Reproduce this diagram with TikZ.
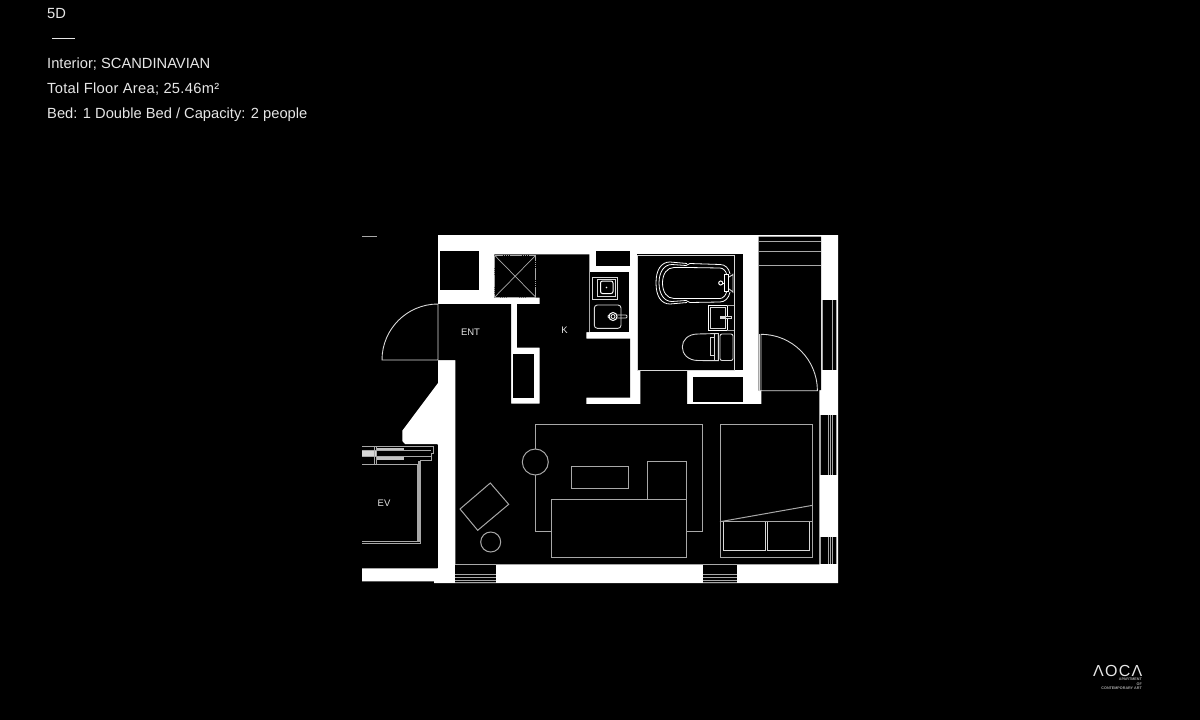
\documentclass[tikz,border=0pt]{standalone}
\usepackage{fontspec}
\setmainfont{Liberation Sans}
\definecolor{txt}{HTML}{E6E6E6}
\definecolor{ln}{HTML}{D8D8D8}
\definecolor{gl}{HTML}{A8A8A8}
\tikzset{
  wall/.style={fill=white,draw=none},
  void/.style={fill=black,draw=none},
  thin line/.style={draw=ln,line width=0.9pt},
  grey line/.style={draw=gl,line width=1pt},
  fix line/.style={draw=white,line width=1pt},
  info/.style={text=txt,anchor=base west,inner sep=0pt,font=\fontsize{14.7}{14.7}\selectfont},
  room/.style={text=txt,anchor=center,inner sep=0pt,font=\fontsize{9.5}{9.5}\selectfont},
  logosmall/.style={text=gl,inner sep=0pt,anchor=base east,font=\bfseries\fontsize{3.7}{3.7}\selectfont},
}
\begin{document}
\begin{tikzpicture}[x=1pt,y=-1pt]
\useasboundingbox (0,0) rectangle (1200,720);
\fill[black] (0,0) rectangle (1200,720);
% header
\node[info] (t1) at (47,18) {5D};
\coordinate (da) at (52,38); \coordinate (db) at (75,38);
\draw[draw=txt,line width=1pt] (da) -- (db);
\node[info] (t2) at (47,68) {Interior; SCANDINAVIAN};
\node[info] (t3) at (47,93) {\addfontfeature{LetterSpace=2}Total Floor Area; 25.46m²};
\node[info] (t4) at (47,118) {Bed: 1 Double Bed / Capacity: 2 people};
% silhouette
\fill[wall] (438,235) -- (838,235) -- (838,583) -- (434,583) -- (434,581.3) -- (362,581.3) -- (362,568.3)
  -- (437.7,568.3) -- (437.7,444) -- (405,444) -- (402.3,441) -- (402.3,430.7) -- (438,383) -- cycle;
% main room
\fill[void] (438,304) -- (511,304) -- (511,403.7) -- (539.7,403.7) -- (539.7,347.7) -- (517,347.7) -- (517,304)
  -- (539.7,304) -- (539.7,297.7) -- (494.3,297.7) -- (494.3,254.3) -- (589.3,254.3) -- (589.3,332) -- (586.3,332)
  -- (586.3,338.7) -- (630,338.7) -- (630,397.7) -- (586.3,397.7) -- (586.3,404) -- (640.3,404) -- (640.3,370.3)
  -- (687,370.3) -- (687,404) -- (761.3,404) -- (761.3,390.7) -- (758.7,390.7) -- (758.7,236.7) -- (821,236.7)
  -- (821,390) -- (819.3,390) -- (819.3,564.3) -- (455.3,564.3) -- (455.3,360) -- (438,360) -- cycle;
% closets and fixtures voids
\fill[void] (440,250.7) rectangle (479.3,290.3);
\fill[void] (596,250.7) rectangle (630,266);
\fill[void] (590,272) rectangle (629.3,332);
\fill[void] (636.7,254.3) rectangle (743.3,370.3);
\fill[void] (693,377.3) rectangle (743.3,401.7);
\fill[void] (513,353.7) rectangle (533.7,397.7);
% right windows
\fill[void] (821.7,300.3) rectangle (837,369.7);
\fill[void] (820,415) rectangle (837,474.7);
\fill[void] (820,536.7) rectangle (837,564.3);
\foreach \a/\b/\cc in {822/300.3/369.7,832/300.3/369.7,836.3/300.3/369.7,
   820/415/474.7,828/415/474.7,830/415/474.7,832.7/415/474.7,836.7/415/474.7,
   820/536.7/564.3,828/536.7/564.3,830/536.7/564.3,832.7/536.7/564.3,836.7/536.7/564.3}
  \draw[grey line,line width=0.8pt] (\a,\b) -- (\a,\cc);
% bottom windows
\fill[void] (455.3,565) rectangle (496,583);
\fill[void] (702.7,565) rectangle (736.7,583);
\foreach \a/\b in {455.3/496,702.7/736.7}
  \foreach \y in {564.6,574.3,577,580,582.5}
    \draw[grey line,line width=0.8pt] (\a,\y) -- (\b,\y);
% balcony lines
\foreach \y in {236.7,241.3,251.7,265.3}
  \draw[grey line] (758.7,\y) -- (821,\y);
% doors
\draw[thin line] (438,304) -- (438,360) -- (382,360) arc[start angle=180,end angle=270,radius=56];
\draw[thin line] (759,390.7) -- (759,334.3);
\draw[thin line] (761,390.7) -- (761,334.3) arc[start angle=270,end angle=360,radius=56.4] -- (759,390.7);
% shaft
\draw[draw=gl,line width=0.8pt,dash pattern=on 1.5pt off 0.4pt] (494.8,255.5) rectangle (535.5,297);
\draw[grey line,line width=0.7pt] (494.8,255.5) -- (535.5,297) (535.5,255.5) -- (494.8,297);
% small mark
\draw[draw=gl,line width=0.9pt] (362,236) -- (377,236);
% elevator
\fill[void] (362,444.5) rectangle (437.7,568.3);
\draw[grey line] (362,446.7) -- (433.7,446.7) -- (433.7,453.7) -- (431.7,453.7) -- (431.7,460.7) -- (420,460.7) -- (420,543.3) -- (362,543.3);
\draw[grey line] (417.5,464) -- (417.5,541.3) -- (362,541.3);
\draw[grey line] (362,464) -- (417.5,464);
\fill[gl] (418,461) rectangle (420,542);
\fill[gl!70] (376,447.5) rectangle (403.5,450.5);
\fill[gl!70] (376,457) rectangle (403.5,460);
\fill[ln] (362,451) rectangle (376,456);
\draw[grey line,line width=0.7pt] (374,447) -- (374,464) (376,447) -- (376,464);
\draw[grey line,line width=0.7pt] (362,450.5) -- (431,450.5) (362,456.5) -- (431,456.5);
% living room
\draw[grey line] (552,531.7) -- (535.3,531.7) -- (535.3,475);
\draw[grey line] (535.3,449) -- (535.3,424.3) -- (702.3,424.3) -- (702.3,531.7) -- (686,531.7);
\draw[grey line] (535.3,462) circle[radius=13];
\draw[grey line] (551.7,499.7) rectangle (686,557);
\draw[grey line] (571.3,466.7) rectangle (628,488.3);
\draw[grey line] (647.3,499.7) -- (647.3,461.7) -- (686,461.7) -- (686,499.7);
\draw[grey line] (490.3,483) -- (508.7,504.3) -- (477.7,530.3) -- (460,509) -- cycle;
\draw[grey line] (490.7,542) circle[radius=10];
% bed
\draw[grey line] (720,424.7) rectangle (812.7,557);
\draw[grey line] (720,521.7) -- (812.7,505.3);
\draw[grey line] (720,521.7) -- (812.7,521.7);
\draw[thin line] (723.3,522) -- (723.3,550.3) -- (765.3,550.3) -- (765.3,522);
\draw[thin line] (767.7,522) -- (767.7,550.3) -- (809.7,550.3) -- (809.7,522);
% kitchen
\draw[grey line] (589.8,272) -- (589.8,332);
\draw[thin line] (592.5,277.3) rectangle (617.3,299);
\draw[thin line] (597.7,279) rectangle (615,296.5);
\draw[fix line,rounded corners=2pt] (600.5,281) rectangle (613,293.5);
\fill[white] (606.5,287.5) circle[radius=0.8];
\draw[thin line,rounded corners=3pt] (594.3,305) rectangle (621,328.3);
\draw[thin line,rounded corners=1pt] (608,315) rectangle (627,318);
\draw[fix line,fill=black] (613,316.5) circle[radius=4];
\draw[fix line,line width=0.8pt] (613,316.5) circle[radius=2];
% bath
\draw[thin line] (637,255.5) rectangle (734.3,370);
\draw[fix line,line width=0.8pt] (687,263.5) -- (670,262) .. controls (661,262) and (656,270) .. (656,283) .. controls (656,296) and (661,304) .. (670,304) -- (687,302.5);
\draw[fix line,line width=0.8pt] (686,265.5) -- (672,264.5) .. controls (664,264.5) and (659,272) .. (659,283) .. controls (659,294) and (664,301.5) .. (672,301.5) -- (686,300.5);
\draw[fix line,line width=0.8pt] (688,267.5) -- (674,267.5) .. controls (667,267.5) and (662.5,274) .. (662.5,283) .. controls (662.5,292) and (667,298.5) .. (674,298.5) -- (688,298.5);
\draw[fix line,line width=0.8pt] (686,265.5) -- (690,263.5) -- (720,264.5) .. controls (725,264.5) and (729,268) .. (730,274);
\draw[fix line,line width=0.8pt] (686,300.5) -- (690,302.5) -- (720,302) .. controls (725,302) and (729,298) .. (730,292);
\draw[fix line,line width=0.8pt] (688,267.5) -- (720,268) .. controls (723,268) and (726,271) .. (726.5,274);
\draw[fix line,line width=0.8pt] (688,298.5) -- (720,298.5) .. controls (723,298.5) and (726,295) .. (726.5,292);
\draw[fix line,fill=black] (724.7,274.3) rectangle (728,291);
\draw[thin line] (729,277) -- (733,274.5) (729,289) -- (733,292) (733,273.5) -- (733,293);
\draw[fix line] (725,283) -- (722,283);
\draw[fix line,fill=black] (720.7,283) circle[radius=2];
% bath sink
\draw[fix line] (708.7,305.5) rectangle (727,330.5);
\draw[thin line] (710.5,307.5) rectangle (725.5,328.5);
\draw[grey line,line width=0.7pt] (727,305) -- (734,305) (727,330.5) -- (734,330.5);
\fill[ln] (720,315.7) rectangle (731.7,319.3);
\fill[black] (725.5,316.7) rectangle (731,318.3);
% toilet
\draw[thin line,rounded corners=2pt] (720,334) rectangle (733,360.5);
\draw[thin line] (718.3,333.5) -- (698,334) .. controls (688,334) and (682.3,340) .. (682.3,347) .. controls (682.3,354) and (688,360.5) .. (698,360.5) -- (718.3,360.7) -- cycle;
\draw[thin line] (714.5,333.5) -- (714.5,360.7);
\draw[thin line] (710.7,337.7) rectangle (714.3,355.7);
% labels
\node[room] (ent) at (470.5,332.5) {ENT};
\node[room] (k) at (564.5,330.5) {K};
\node[room] (ev) at (384,503) {EV};
% logo
\node[text=txt,inner sep=0pt,anchor=base east,font=\fontsize{16}{16}\selectfont\addfontfeature{LetterSpace=8}] (logo) at (1142.5,676) {ΛOCΛ};
\node[logosmall] (l1) at (1142,680.8) {APARTMENT};
\node[logosmall] (l2) at (1142,685.2) {OF};
\node[logosmall] (l3) at (1142,689.6) {CONTEMPORARY ART};
\end{tikzpicture}
\end{document}
